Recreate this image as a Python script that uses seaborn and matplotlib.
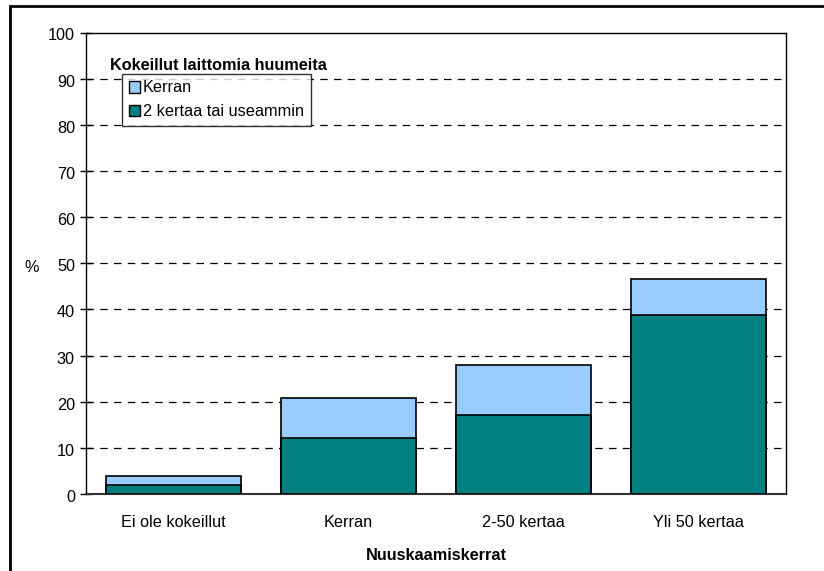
import matplotlib
matplotlib.use("Agg")
import matplotlib.pyplot as plt
import matplotlib.transforms as mtransforms
import seaborn as sns
import pandas as pd
from matplotlib.patches import Rectangle, Patch

categories = ["Ei ole kokeillut", "Kerran", "2-50 kertaa", "Yli 50 kertaa"]
kerran_total = [3.8, 20.8, 27.9, 46.6]   # top of stacked bar (Kerran + 2 kertaa)
useammin = [2.0, 12.1, 17.2, 38.7]       # 2 kertaa tai useammin
series_names = ["Kerran", "2 kertaa tai useammin"]
yticks = list(range(0, 101, 10))

sns.set_theme(style="white")
plt.rcParams['font.family'] = ['Liberation Sans', 'DejaVu Sans']
plt.rcParams.update({'text.color': 'black', 'axes.labelcolor': 'black',
                     'xtick.color': 'black', 'ytick.color': 'black'})
FS = 11.7

fig = plt.figure(figsize=(8.24, 5.71), dpi=100)
ax = fig.add_axes([86/824, 1-494/571, 700/824, (494-32.5)/571])

df_top = pd.DataFrame({"cat": categories, "val": kerran_total})
df_bot = pd.DataFrame({"cat": categories, "val": useammin})

light = "#99CCFF"
teal = "#008080"
sns.barplot(data=df_top, x="cat", y="val", color=light, edgecolor="black",
            linewidth=1.2, width=0.77, saturation=1, ax=ax, zorder=3)
sns.barplot(data=df_bot, x="cat", y="val", color=teal, edgecolor="black",
            linewidth=1.2, width=0.77, saturation=1, ax=ax, zorder=4)

ax.set_xlim(-0.5, 3.5)
ax.set_ylim(0, 100)
ax.set_yticks(yticks)
ax.set_yticklabels([str(t) for t in yticks], fontsize=FS)
ax.tick_params(axis='y', direction='inout', length=8, width=1, color='black', pad=4, left=True)
ax.tick_params(axis='x', length=0, labelsize=FS, pad=15)
off = mtransforms.ScaledTranslation(0, -2/100, fig.dpi_scale_trans)
for lab in ax.get_yticklabels():
    lab.set_transform(lab.get_transform() + off)
for t in yticks[1:-1]:
    ax.axhline(t, color='black', linestyle=(0, (6, 5)), linewidth=0.9, zorder=1)
for s in ax.spines.values():
    s.set_visible(True)
    s.set_color('black')
    s.set_linewidth(1.0)
ax.spines['bottom'].set_color('#333333')
ax.spines['bottom'].set_linewidth(1.5)

ax.set_xlabel("Nuuskaamiskerrat", fontsize=FS, fontweight='bold')
ax.xaxis.label.set_va('center')
ax.xaxis.set_label_coords(0.5, (494-556)/461.5)
ax.set_ylabel("%", fontsize=FS, rotation=0, va='center', ha='center')
ax.yaxis.set_label_coords((32-86)/700, (494-268)/461.5)

handles = [Patch(facecolor=light, edgecolor='black', linewidth=1),
           Patch(facecolor=teal, edgecolor='black', linewidth=1)]
leg = ax.legend(handles, series_names, loc='upper left',
                bbox_to_anchor=((122-86)/700, (494-74)/461.5),
                frameon=True, fancybox=False, edgecolor='black', fontsize=FS,
                handlelength=0.7, handleheight=0.7, handletextpad=0.2,
                borderpad=0.4, labelspacing=0.55, borderaxespad=0)
leg.get_frame().set_linewidth(1.0)
leg.set_zorder(10)
for txt in leg.get_texts():
    txt.set_color('black')
ax.text((110-86)/700, (494-65)/461.5, "Kokeillut laittomia huumeita",
        transform=ax.transAxes, fontsize=FS, fontweight='bold', color='black',
        va='center', ha='left', zorder=11,
        bbox=dict(facecolor='white', edgecolor='none', pad=0.5))

fig.patches.append(Rectangle((10/824, -0.1), 1.2, 1 - 6/571 + 0.1,
                             transform=fig.transFigure, fill=False,
                             edgecolor='black', linewidth=2))

fig.savefig("out.png", dpi=100)
